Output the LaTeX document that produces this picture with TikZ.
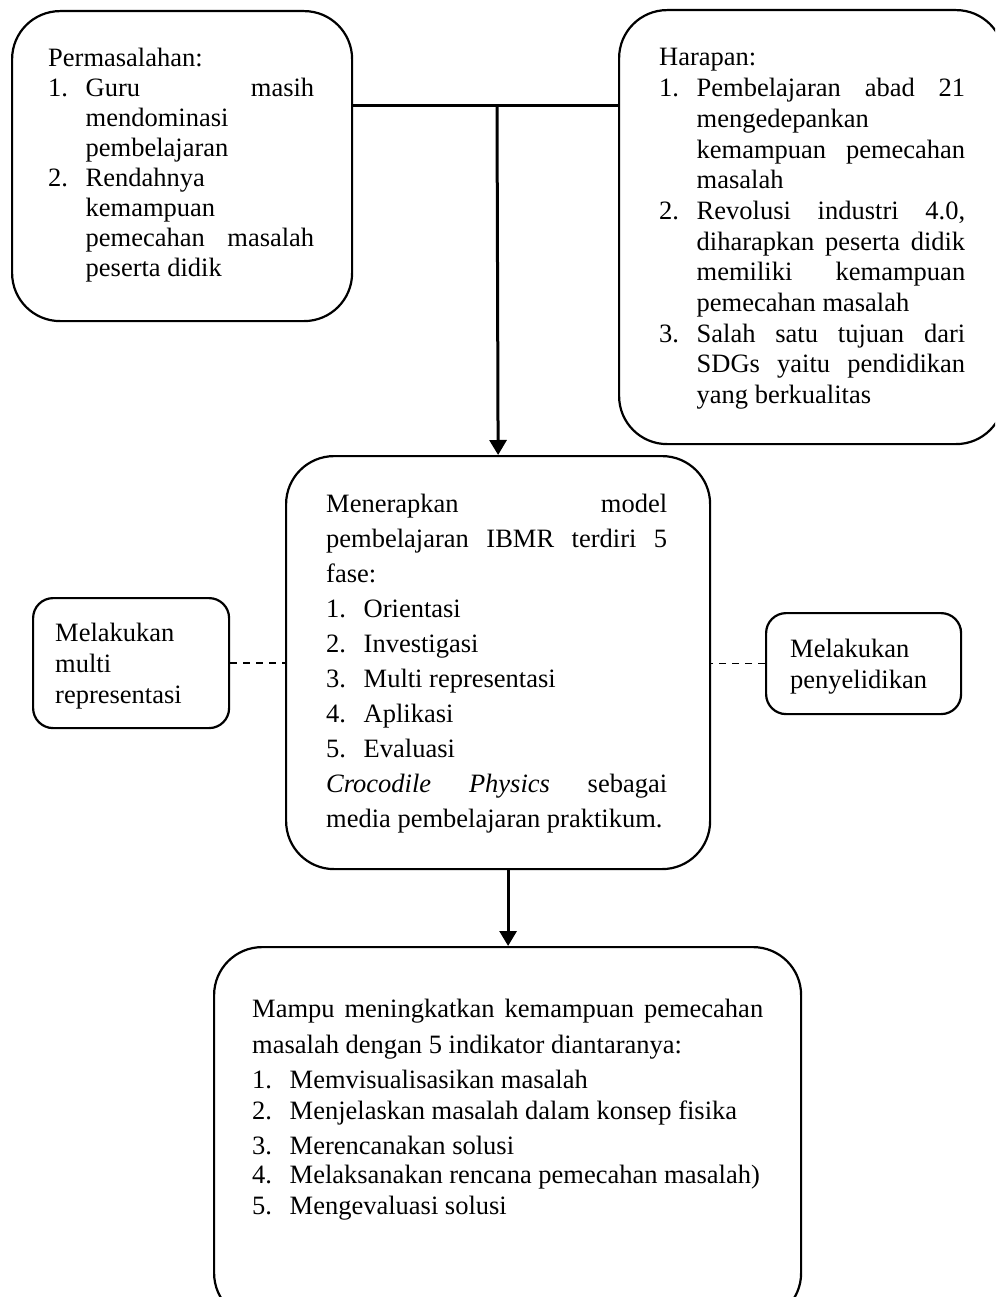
\documentclass[tikz,border=0pt]{standalone}
\usepackage{fontspec}
\setmainfont{Liberation Serif}
\usetikzlibrary{arrows.meta}
\newlength\lblw
\setlength\lblw{37.5pt}
\newcommand{\lbl}[1]{\makebox[\lblw][l]{#1}}
\newcommand{\indt}{\hspace*{\lblw}}
\newcommand{\itmline}[1]{\makebox[\dimexpr\linewidth-\lblw\relax][s]{#1}}
\newcommand{\fullline}[1]{\makebox[\linewidth][s]{#1}}
\newcommand{\tbox}[3]{\parbox[t]{#1}{\fontsize{26.5}{#2}\selectfont #3}}
\hfuzz=3pt
\hbadness=10000
\begin{document}
\begin{tikzpicture}[x=1pt,y=-1pt,
  box/.style={draw,line width=2.2pt,rounded corners=48pt,inner sep=0pt,anchor=north west},
  sidebox/.style={box,rounded corners=20pt},
  txt/.style={inner sep=0pt,anchor=base west},
  conn/.style={line width=3pt},
  arr/.style={line width=3pt,-{Triangle[length=15pt,width=17pt]}},
  dashline/.style={line width=1.4pt,dash pattern=on 7pt off 6pt}]
        \clip (0,0) rectangle (995,1297);
        \node[box,minimum width=340pt,minimum height=310pt] (prob) at (11,10) {};
        \node[box,minimum width=385pt,minimum height=434pt] (hope) at (618,9) {};
        \node[box,minimum width=424pt,minimum height=413pt] (mid) at (285,455) {};
        \node[box,minimum width=587pt,minimum height=374pt] (res) at (213,946) {};
        \node[sidebox,minimum width=196pt,minimum height=130pt] (multi) at (32,597) {};
        \node[sidebox,minimum width=195pt,minimum height=101pt] (penyel) at (765,612) {};
        \node[txt] (probT) at (48,67) {\tbox{266pt}{30pt}{Permasalahan:\\
            \lbl{1.}\itmline{Guru masih}\\
            \indt mendominasi\\
            \indt pembelajaran\\
            \lbl{2.}Rendahnya\\
            \indt kemampuan\\
            \indt\itmline{pemecahan masalah}\\
            \indt peserta didik}};
        \node[txt] (hopeT) at (659,66) {\tbox{306pt}{30.7pt}{Harapan:\\
            \lbl{1.}\itmline{Pembelajaran abad 21}\\
            \indt mengedepankan\\
            \indt\itmline{kemampuan pemecahan}\\
            \indt masalah\\
            \lbl{2.}\itmline{Revolusi industri 4.0,}\\
            \indt\itmline{diharapkan peserta didik}\\
            \indt\itmline{memiliki kemampuan}\\
            \indt pemecahan masalah\\
            \lbl{3.}\itmline{Salah satu tujuan dari}\\
            \indt\itmline{SDGs yaitu pendidikan}\\
            \indt yang berkualitas}};
        \node[txt] (midT) at (326,512) {\tbox{341pt}{35pt}{\fullline{Menerapkan model}\\
            \fullline{pembelajaran IBMR terdiri 5}\\
            fase:\\
            \lbl{1.}Orientasi\\
            \lbl{2.}Investigasi\\
            \lbl{3.}Multi representasi\\
            \lbl{4.}Aplikasi\\
            \lbl{5.}Evaluasi\\
            \fullline{\textit{Crocodile Physics} sebagai}\\
            media pembelajaran praktikum.}};
        \node[txt] (resT) at (252,1017) {\tbox{511pt}{29pt}{\fullline{Mampu meningkatkan kemampuan pemecahan}\\[7pt]
            masalah dengan 5 indikator diantaranya:\\[6pt]
            \lbl{1.}Memvisualisasikan masalah\\[2pt]
            \lbl{2.}Menjelaskan masalah dalam konsep fisika\\[6pt]
            \lbl{3.}Merencanakan solusi\\
            \lbl{4.}Melaksanakan rencana pemecahan masalah)\\[2pt]
            \lbl{5.}Mengevaluasi solusi}};
        \node[txt] (multiT) at (55,641) {\tbox{170pt}{31pt}{Melakukan\\multi\\representasi}};
        \node[txt] (penyelT) at (790,657) {\tbox{165pt}{31pt}{Melakukan\\penyelidikan}};
        \coordinate (jn) at (497,106);
        \draw[conn] (jn -| prob.east) -- (jn -| hope.west);
        \draw[arr] (jn) -- (mid.north);
        \draw[arr] ([xshift=10pt]mid.south) -- ([xshift=10pt]mid.south |- res.north);
        \draw[dashline] (multi.east) -- (multi.east -| mid.west);
        \draw[dashline] (penyel.west) -- (penyel.west -| mid.east);
\end{tikzpicture}
\end{document}
